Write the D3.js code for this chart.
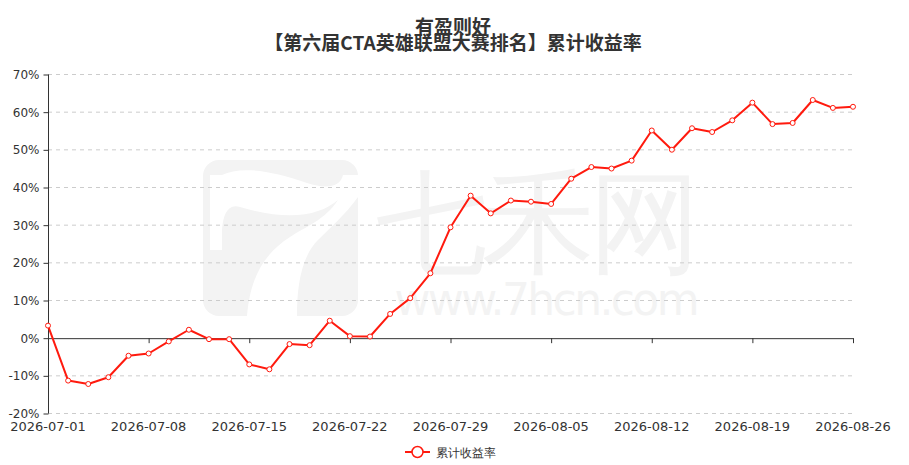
<!DOCTYPE html>
<html>
<head>
<meta charset="utf-8">
<title>有盈则好 累计收益率</title>
<script src="https://d3js.org/d3.v7.min.js"></script>
<style>
  body { margin: 0; background: #fff; }
  text { font-family: "DejaVu Sans", sans-serif; }
  .title { font-family: "Noto Sans CJK SC", sans-serif; font-weight: bold; }
</style>
</head>
<body>
<script>
var w = 909;
var h = 465;

// trading days (category axis)
var dates = [
  "2026-07-01", "2026-07-02", "2026-07-03", "2026-07-06", "2026-07-07",
  "2026-07-08", "2026-07-09", "2026-07-10", "2026-07-13", "2026-07-14",
  "2026-07-15", "2026-07-16", "2026-07-17", "2026-07-20", "2026-07-21",
  "2026-07-22", "2026-07-23", "2026-07-24", "2026-07-27", "2026-07-28",
  "2026-07-29", "2026-07-30", "2026-07-31", "2026-08-03", "2026-08-04",
  "2026-08-05", "2026-08-06", "2026-08-07", "2026-08-10", "2026-08-11",
  "2026-08-12", "2026-08-13", "2026-08-14", "2026-08-17", "2026-08-18",
  "2026-08-19", "2026-08-20", "2026-08-21", "2026-08-24", "2026-08-25",
  "2026-08-26"
];

// 累计收益率 (%)
var returns = [
  3.2, -11.4, -12.3, -10.5, -4.8, -4.2, -1.0, 2.1, -0.4, -0.4,
  -7.1, -8.4, -1.7, -2.0, 4.5, 0.4, 0.3, 6.3, 10.5, 17.1,
  29.3, 37.7, 33.0, 36.4, 36.1, 35.5, 42.2, 45.3, 44.9, 47.0,
  55.0, 49.9, 55.6, 54.6, 57.7, 62.4, 56.7, 57.0, 63.1, 61.0,
  61.3
];

var xTickLabels = ["2026-07-01", "2026-07-08", "2026-07-15", "2026-07-22", "2026-07-29",
                   "2026-08-05", "2026-08-12", "2026-08-19", "2026-08-26"];
var yTicks = [-20, -10, 0, 10, 20, 30, 40, 50, 60, 70];

var title = "有盈则好";
var subtitle = "【第六届CTA英雄联盟大赛排名】累计收益率";
var seriesName = "累计收益率";

// plot box (note: "top" is reserved on window, so use other names)
var plotLeft = 48, plotRight = 853, plotTop = 74, plotBottom = 413;

var svg = d3.select("body").append("svg")
  .attr("width", w)
  .attr("height", h);

var xScale = d3.scalePoint()
  .domain(dates)
  .range([plotLeft, plotRight]);

var yScale = d3.scaleLinear()
  .domain([-20, 70])
  .range([plotBottom, plotTop]);

// watermark
var wm = svg.append("g").attr("class", "watermark");
wm.append("rect")
  .attr("x", 203).attr("y", 160)
  .attr("width", 155).attr("height", 156)
  .attr("rx", 16)
  .attr("fill", "#f3f3f3");
wm.append("path")
  .attr("d", "M222,175 C240,166 270,170 307,183 C325,189 340,188 343,175 L358,175 L358,197 " +
             "C345,215 330,228 318,240 C300,258 297,290 297,316 L247,316 " +
             "C250,280 262,255 290,237 C305,227 325,220 338,200 " +
             "C320,215 290,222 240,207 C228,203 222,215 222,235 L222,250 L210,250 L210,175 Z")
  .attr("fill", "#fff");
wm.append("text")
  .attr("x", 538).attr("y", 262)
  .attr("text-anchor", "middle")
  .attr("font-family", "Noto Sans CJK SC")
  .attr("font-size", 112)
  .attr("fill", "#f3f3f3")
  .attr("textLength", 325)
  .text("七禾网");
wm.append("text")
  .attr("x", 547).attr("y", 315)
  .attr("text-anchor", "middle")
  .attr("font-family", "DejaVu Sans")
  .attr("font-size", 44)
  .attr("fill", "#f3f3f3")
  .attr("textLength", 305)
  .text("www.7hcn.com");

// grid lines
svg.append("g")
  .selectAll("line")
  .data(yTicks.filter(function(d) { return d !== 0; }))
  .enter()
  .append("line")
  .attr("x1", plotLeft)
  .attr("x2", plotRight)
  .attr("y1", function(d) { return yScale(d) + 0.5; })
  .attr("y2", function(d) { return yScale(d) + 0.5; })
  .attr("stroke", "#ccc")
  .attr("stroke-dasharray", "4,4");

// y axis
var yAxis = d3.axisLeft(yScale)
  .tickValues(yTicks)
  .tickSize(5)
  .tickPadding(4)
  .tickFormat(function(d) { return d + "%"; });

var yAxisG = svg.append("g")
  .attr("transform", "translate(" + (plotLeft + 0.5) + ",0.5)")
  .call(yAxis);
yAxisG.select(".domain").attr("stroke", "#333").attr("d", "M0," + plotTop + "V" + plotBottom);
yAxisG.selectAll(".tick line").attr("stroke", "#333");
yAxisG.selectAll("text").attr("font-size", 12).attr("fill", "#333").attr("font-family", "DejaVu Sans");

// x axis line on zero
var xAxis = d3.axisBottom(xScale)
  .tickValues(xTickLabels)
  .tickSize(5)
  .tickSizeOuter(0)
  .tickFormat("");

var xAxisG = svg.append("g")
  .attr("transform", "translate(0," + (yScale(0) + 0.5) + ")")
  .call(xAxis);
xAxisG.select(".domain").attr("stroke", "#333");
xAxisG.selectAll(".tick line").attr("stroke", "#333");

// x labels at the bottom
svg.append("g")
  .selectAll("text")
  .data(xTickLabels)
  .enter()
  .append("text")
  .attr("x", function(d) { return xScale(d); })
  .attr("y", 431)
  .attr("text-anchor", "middle")
  .attr("font-size", 13)
  .attr("fill", "#333")
  .text(function(d) { return d; });

// series line
var line = d3.line()
  .x(function(d, i) { return xScale(dates[i]); })
  .y(function(d) { return yScale(d); });

svg.append("path")
  .datum(returns)
  .attr("fill", "none")
  .attr("stroke", "#ff1a0e")
  .attr("stroke-width", 2)
  .attr("stroke-linejoin", "round")
  .attr("d", line);

svg.selectAll("circle.pt")
  .data(returns)
  .enter()
  .append("circle")
  .attr("class", "pt")
  .attr("cx", function(d, i) { return xScale(dates[i]); })
  .attr("cy", function(d) { return yScale(d); })
  .attr("r", 2.5)
  .attr("fill", "#fff")
  .attr("stroke", "#ff1a0e")
  .attr("stroke-width", 1);

// titles
svg.append("text")
  .attr("class", "title")
  .attr("x", 453).attr("y", 34)
  .attr("text-anchor", "middle")
  .attr("font-size", 19)
  .attr("fill", "#333")
  .text(title);
svg.append("text")
  .attr("class", "title")
  .attr("x", 453).attr("y", 50)
  .attr("text-anchor", "middle")
  .attr("font-size", 19)
  .attr("fill", "#333")
  .text(subtitle);

// legend
var lg = svg.append("g").attr("transform", "translate(405,452)");
lg.append("line")
  .attr("x1", 0).attr("x2", 25)
  .attr("stroke", "#ff1a0e").attr("stroke-width", 2);
lg.append("circle")
  .attr("cx", 12.5).attr("r", 5.5)
  .attr("fill", "#fff").attr("stroke", "#ff1a0e").attr("stroke-width", 1.5);
lg.append("text")
  .attr("x", 31).attr("y", 4.5)
  .attr("font-family", "Noto Sans CJK SC")
  .attr("font-size", 12)
  .attr("fill", "#333")
  .text(seriesName);
</script>
</body>
</html>
